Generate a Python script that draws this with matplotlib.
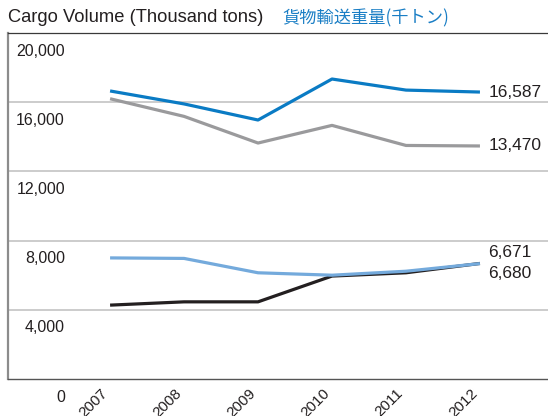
import matplotlib.pyplot as plt

plt.rcParams['font.family'] = ['Liberation Sans', 'DejaVu Sans']

years = [2007, 2008, 2009, 2010, 2011, 2012]
cargo_a = [16650, 15900, 14970, 17340, 16700, 16587]   # blue
cargo_b = [16200, 15180, 13640, 14660, 13500, 13470]   # gray
cargo_c = [7000, 6970, 6140, 6000, 6230, 6671]         # light blue
cargo_d = [4270, 4460, 4460, 5950, 6140, 6680]         # black
end_labels = ['16,587', '13,470', '6,671', '6,680']
y_ticks = [0, 4000, 8000, 12000, 16000, 20000]
y_tick_labels = ['0', '4,000', '8,000', '12,000', '16,000', '20,000']

fig = plt.figure(figsize=(5.48, 4.16), dpi=100)
ax = fig.add_axes([8 / 548, 37 / 416, 540 / 548, 346 / 416])

ax.plot(years, cargo_b, color='#9a9a9c', lw=2.3, solid_capstyle='butt')
ax.plot(years, cargo_a, color='#0a7bc4', lw=2.3, solid_capstyle='butt')
ax.plot(years, cargo_d, color='#231f20', lw=2.3, solid_capstyle='butt')
ax.plot(years, cargo_c, color='#74aadc', lw=2.3, solid_capstyle='butt')

ax.set_xlim(2005.62, 2012.92)
ax.set_ylim(0, 20000)

# lignes de la grille
for v in y_ticks[1:-1]:
    ax.axhline(v, color='#c4c4c4', lw=1.2, zorder=0)

ax.spines['right'].set_visible(False)
ax.spines['left'].set_color('#8c8c8c')
ax.spines['left'].set_linewidth(1.6)
ax.spines['top'].set_color('#3a3a3a')
ax.spines['top'].set_linewidth(0.9)
ax.spines['bottom'].set_color('#555555')
ax.spines['bottom'].set_linewidth(1.0)

# y tick labels sit inside the plot below each line
ax.set_yticks([])
for v, lab in zip(y_ticks, y_tick_labels):
    ax.annotate(lab, xy=(0, v), xycoords=ax.get_yaxis_transform(),
                xytext=(41, -13), textcoords='offset points',
                ha='right', va='center', fontsize=11.5, color='#231f20',
                annotation_clip=False)

ax.set_xticks(years)
ax.set_xticklabels([str(y) for y in years], rotation=45, ha='right', va='top',
                   fontsize=11, color='#231f20')
ax.tick_params(axis='x', length=0, pad=5)

# end value labels
ends = [cargo_a[-1], cargo_b[-1], cargo_c[-1], cargo_d[-1]]
shifts = [0, 0, 8, -7]
for v, lab, s in zip(ends, end_labels, shifts):
    ax.annotate(lab, xy=(years[-1], v), xytext=(6, s), textcoords='offset points',
                ha='left', va='center', fontsize=12.5, color='#231f20',
                annotation_clip=False)

fig.text(8 / 548, 1 - 18 / 416, 'Cargo Volume (Thousand tons)',
         fontsize=13.2, color='#231f20', va='center', ha='left')
fig.text(282 / 548, 1 - 18 / 416, '貨物輸送重量(千トン)',
         fontsize=12.4, color='#1a7ec5', va='center', ha='left',
         family=['Noto Sans CJK JP', 'DejaVu Sans'])

plt.savefig('out.png', dpi=100)
